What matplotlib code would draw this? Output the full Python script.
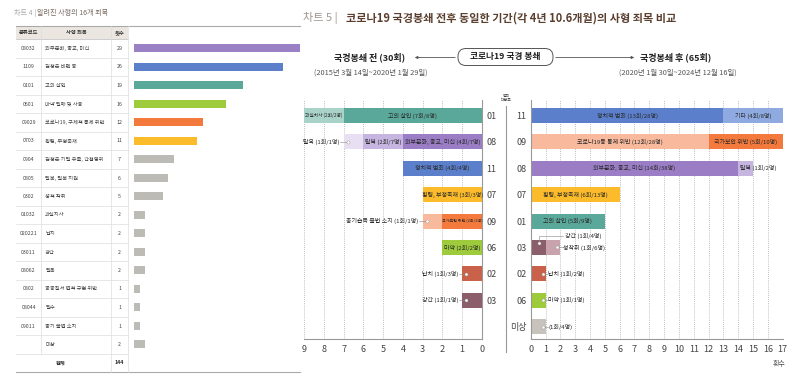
import numpy as np
import matplotlib
matplotlib.use("Agg")
import matplotlib.pyplot as plt
from matplotlib.patches import FancyBboxPatch, Rectangle

plt.rcParams['font.family'] = ['Noto Sans CJK KR', 'DejaVu Sans']

# ---- chart 4: known death-penalty charges ----
codes = ["08032", "1109", "0101", "0601", "09029", "0703", "0904", "0805", "0302",
         "01032", "020221", "03011", "08062", "0802", "08044", "09011", ""]
charges = ["외부문화, 종교, 미신", "김정은 비판 등", "고의 살인", "마약 밀매 및 사용",
           "코로나19, 구체적 통제 위반", "횡령, 부정축재", "김정은 기밀 유출, 간첩행위",
           "탈북, 탈북 지원", "성적 착취", "과실치사", "납치", "강간", "탈옥",
           "공공질서 법적 규범 위반", "밀수", "총기 불법 소지", "미상"]
charge_counts = [29, 26, 19, 16, 12, 11, 7, 6, 5, 2, 2, 2, 2, 1, 1, 1, 2]
charge_colors = ["#9a80c4", "#5b7fcb", "#5aa89a", "#9dcb3b", "#f3793c", "#fbbb2b"] + ["#bdbbb5"] * 11

# ---- chart 5: before / after border closure ----
before_cats = ["01", "08", "11", "07", "09", "06", "02", "03"]
before_rows = ["01", "01", "08", "08", "08", "11", "07", "09", "09", "06", "02", "03"]
before_names = ["고의 살인", "과실치사", "외부문화, 종교, 미신", "탈북", "탈옥", "정치적 범죄",
                "횡령, 부정축재", "국가보안 위반", "총기습득 불법 소지", "마약", "납치", "강간"]
before_counts = [7, 2, 4, 2, 1, 4, 3, 2, 1, 2, 1, 1]
before_people = [8, 2, 7, 7, 1, 4, 3, 2, 1, 2, 3, 1]
before_colors = ["#5aa89a", "#a9d3c8", "#9a7dc4", "#c6b5e0", "#e8e0f2", "#5b7fcb",
                 "#fbbb2b", "#f3793c", "#f9b99c", "#9dcb3b", "#c9614b", "#8c5d6b"]
before_modes = ["c", "s", "c", "c", "o", "c", "c", "t", "o", "c", "o", "o"]

after_cats = ["11", "09", "08", "07", "01", "03", "02", "06", "미상"]
after_rows = ["11", "11", "09", "09", "08", "08", "07", "01", "03", "03", "02", "06", "미상"]
after_names = ["정치적 범죄", "기타", "코로나19등 통제 위반", "국가보안 위반",
               "외부문화, 종교, 미신", "탈북", "횡령, 부정축재", "고의 살인", "강간",
               "성착취", "납치", "마약", ""]
after_counts = [13, 4, 12, 5, 14, 1, 6, 5, 1, 1, 1, 1, 1]
after_people = [28, 8, 28, 10, 38, 2, 13, 9, 4, 6, 2, 1, 4]
after_colors = ["#5b7fcb", "#8eaae0", "#f9b99c", "#f3793c", "#9a7dc4", "#c6b5e0",
                "#fbbb2b", "#5aa89a", "#8c5d6b", "#c8a3ad", "#c9614b", "#9dcb3b", "#c7c3bc"]
after_modes = ["c", "c", "c", "c", "c", "l", "c", "c", "u", "o", "o", "o", "o"]

W, H = 800, 383
fig = plt.figure(figsize=(W / 100, H / 100), dpi=100)


def px_axes(x0, y0, x1, y1):
    return fig.add_axes([x0 / W, 1 - y1 / H, (x1 - x0) / W, (y1 - y0) / H])


def draw_segments(ax, cats, rows, names, counts, people, colors, modes):
    ends = {c: 0 for c in cats}
    txt = dict(color="#2a2a2a", va="center")
    for r, n, c, p, col, m in zip(rows, names, counts, people, colors, modes):
        y = cats.index(r)
        start = ends[r]
        end = start + c
        ends[r] = end
        ax.barh(y, c, left=start, height=0.57, color=col, edgecolor="none", zorder=2)
        label = f"{n} ({c}회/{p}명)" if n else f"({c}회/{p}명)"
        if m in ("c", "s", "t"):
            fs = {"c": 4.3, "s": 3.4, "t": 2.9}[m]
            ax.text(start + c / 2, y, label, ha="center", fontsize=fs, zorder=3, **txt)
        elif m == "l":
            ax.text(start + 0.1, y, label, ha="left", fontsize=4.3, zorder=3, **txt)
        elif m == "o":
            reverse = ax.xaxis_inverted()
            dot = end - 0.2
            tx = end + 0.18
            ax.plot([dot, tx], [y, y], color="#888", lw=0.4, zorder=3)
            ax.plot(dot, y, "o", ms=2.2, mfc="white", mec="#999", mew=0.3, zorder=4)
            ax.text(tx + 0.02, y, label,
                    ha="right" if reverse else "left", fontsize=4.3, zorder=3, **txt)
        elif m == "u":
            dot = start + 0.58
            ax.plot([dot, dot, 2.2], [y - 0.18, y - 0.44, y - 0.44], color="#888", lw=0.4, zorder=3)
            ax.plot(dot, y - 0.18, "o", ms=2.2, mfc="white", mec="#999", mew=0.3, zorder=4)
            ax.text(2.3, y - 0.44, label, ha="left", fontsize=4.3, zorder=3, **txt)


def style_axes(ax, xmax):
    ax.set_ylim(8.466, -0.587)
    ax.set_xticks(range(0, xmax + 1))
    ax.grid(axis="x", ls=(0, (1, 1.5)), color="#aaa", lw=0.6, zorder=0)
    ax.tick_params(length=0, labelsize=6.5, colors="#444")
    ax.tick_params(axis="x", pad=4)
    ax.tick_params(axis="y", pad=3)
    for s in ax.spines.values():
        s.set_visible(False)
    ax.spines["bottom"].set_visible(True)
    ax.spines["bottom"].set_color("#999")
    ax.spines["bottom"].set_linewidth(0.8)


# before panel
axb = px_axes(304, 100, 482, 339)
axb.set_xlim(9, 0)
style_axes(axb, 9)
axb.yaxis.tick_right()
axb.spines["right"].set_visible(True)
axb.spines["right"].set_color("#999")
axb.spines["right"].set_linewidth(0.8)
axb.set_yticks(range(len(before_cats)))
axb.set_yticklabels(before_cats)
draw_segments(axb, before_cats, before_rows, before_names, before_counts,
              before_people, before_colors, before_modes)

# after panel
axa = px_axes(530.7, 100, 782.7, 339)
axa.set_xlim(0, 17)
style_axes(axa, 17)
axa.spines["left"].set_visible(True)
axa.spines["left"].set_color("#999")
axa.spines["left"].set_linewidth(0.8)
axa.set_yticks(range(len(after_cats)))
axa.set_yticklabels(after_cats)
draw_segments(axa, after_cats, after_rows, after_names, after_counts,
              after_people, after_colors, after_modes)

# chart 4 bars
axl = px_axes(134, 39, 300, 353.5)
axl.barh(range(len(charge_counts)), charge_counts, height=0.42, color=charge_colors)
axl.set_xlim(0, 29)
axl.set_ylim(len(charge_counts) - 0.5, -0.5)
axl.axis("off")

# overlay in pixel coordinates for table, titles and header
ov = fig.add_axes([0, 0, 1, 1])
ov.set_xlim(0, W)
ov.set_ylim(H, 0)
ov.axis("off")

ov.text(14, 13, "차트 4 | ", fontsize=5.1, color="#aaa", va="center")
ov.text(37, 13, "알려진 사형의 16개 죄목", fontsize=5.1, color="#7a6a60", va="center")

ov.add_patch(Rectangle((16, 26), 112, 13, color="#ebe6df", lw=0))
ov.plot([16, 300], [26, 26], color="#aaa", lw=0.8)
ov.plot([16, 300], [372, 372], color="#aaa", lw=0.8)
ov.plot([16, 128], [39, 39], color="#bbb", lw=0.5)
for i in range(len(codes)):
    yl = 39 + 18.5 * (i + 1)
    ov.plot([16, 128], [yl, yl], color="#ddd", lw=0.5)
ov.plot([41, 41], [26, 354], color="#ddd", lw=0.5)
ov.plot([111, 111], [26, 372], color="#ddd", lw=0.5)
ov.plot([128, 128], [26, 372], color="#ddd", lw=0.5)
hdr = dict(fontsize=3.8, color="#333", va="center", fontweight="bold")
ov.text(28.5, 32.5, "분류코드", ha="center", **hdr)
ov.text(76, 32.5, "사형 죄목", ha="center", **hdr)
ov.text(119.5, 32.5, "횟수", ha="center", **hdr)
cell = dict(fontsize=3.8, color="#444", va="center")
for i, (cd, nm, ct) in enumerate(zip(codes, charges, charge_counts)):
    yc = 48.5 + 18.5 * i
    ov.text(28.5, yc, cd, ha="center", **cell)
    ov.text(45, yc, nm, ha="left", **cell)
    ov.text(119.5, yc, str(ct), ha="center", **cell)
ov.text(61, 363, "합계", ha="center", **hdr)
ov.text(119.5, 363, str(sum(charge_counts)), ha="center", **hdr)

ov.text(303, 18, "차트 5 | ", fontsize=8, color="#a09890", va="center")
ov.text(346, 18, "코로나19 국경봉쇄 전후 동일한 기간(각 4년 10.6개월)의 사형 죄목 비교",
        fontsize=8, color="#5a3e2e", va="center", fontweight="bold")

ov.add_patch(FancyBboxPatch((458, 48.5), 95, 17, boxstyle="round,pad=0,rounding_size=8",
                            fc="white", ec="#555", lw=0.7))
ov.text(505.5, 57, "코로나19 국경 봉쇄", fontsize=6.3, fontweight="bold", color="#222",
        ha="center", va="center")
ov.annotate("", xy=(412, 57.5), xytext=(458, 57.5),
            arrowprops=dict(arrowstyle="-|>", lw=0.6, color="#555", mutation_scale=4))
ov.annotate("", xy=(637, 57.5), xytext=(553, 57.5),
            arrowprops=dict(arrowstyle="-|>", lw=0.6, color="#555", mutation_scale=4))
ov.text(370, 57.5, f"국경봉쇄 전 ({sum(before_counts)}회)", fontsize=6.5, fontweight="bold",
        color="#222", ha="center", va="center")
ov.text(676, 57.5, f"국경봉쇄 후 ({sum(after_counts)}회)", fontsize=6.5, fontweight="bold",
        color="#222", ha="center", va="center")
ov.text(371, 73, "(2015년 3월 14일~2020년 1월 29일)", fontsize=5.3, color="#555",
        ha="center", va="center")
ov.text(678, 73, "(2020년 1월 30일~2024년 12월 16일)", fontsize=5.3, color="#555",
        ha="center", va="center")

ov.text(506, 98, "범죄\n대분류", fontsize=2.8, color="#444", ha="center", va="center",
        linespacing=1.0)
ov.plot([506, 506], [106, 352], color="#999", lw=0.8)
ov.text(779, 364, "횟수", fontsize=5, color="#444", ha="center", va="center")

fig.savefig("out.png", dpi=100)
